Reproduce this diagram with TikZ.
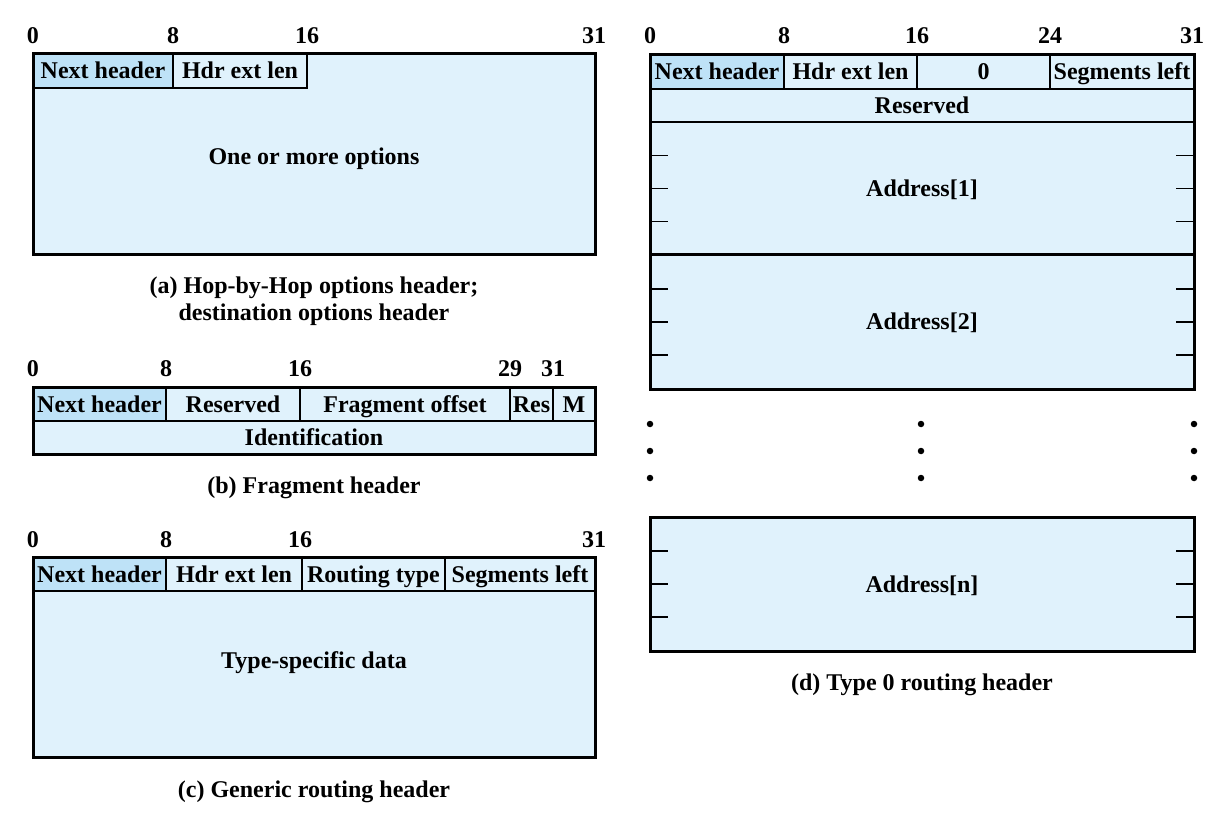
\documentclass[tikz,border=0pt]{standalone}
\usepackage{fontspec}
\setmainfont{Liberation Serif}
\definecolor{cl}{RGB}{224,242,252}
\definecolor{cd}{RGB}{190,226,247}
\newcommand\fldbox[7]{%
  \filldraw[fill=#6, line width=1.3pt] (#2,#3) rectangle (#4,#5);
  \coordinate (#1nw) at (#2,#3);
  \coordinate (#1se) at (#4,#5);
  \coordinate (#1sw) at (#2,#5);
  \node (#1) at ({(#2+#4)/2},{(#3+#5)/2}) {#7};
}
\begin{document}
\begin{tikzpicture}[x=1pt,y=-1pt,
  every node/.style={font=\fontsize{24}{27}\selectfont\bfseries, inner sep=0pt, text height=16pt, text depth=0pt},
  frame/.style={line width=3pt},
  tickline/.style={line width=1.8pt},
  dotnode/.style={circle, fill=black, minimum size=6.5pt, text height=0pt}]
\useasboundingbox (0,0) rectangle (1232,818);

% ---------- (a)
\fldbox{aBox}{33}{54}{595}{255}{cl}{}
\fldbox{aNH}{33}{54}{173}{88}{cd}{Next header}
\fldbox{aHEL}{173}{54}{307}{88}{cl}{Hdr ext len}
\node (aOpt) at (314,157) {One or more options};
\draw[frame] (aBoxnw) rectangle (aBoxse);
\node (a0) at (33,36) {0};
\node (a8) at (173,36) {8};
\node (a16) at (307,36) {16};
\node (a31) at (594,36) {31};
\node (aCap1) at (314,286) {(a) Hop-by-Hop options header;};
\node (aCap2) at (314,313) {destination options header};

% ---------- (b)
\fldbox{bNH}{33}{387}{166}{421}{cd}{Next header}
\fldbox{bRes}{166}{387}{300}{421}{cl}{Reserved}
\fldbox{bFO}{300}{387}{510}{421}{cl}{Fragment offset}
\fldbox{bR}{510}{387}{553}{421}{cl}{Res}
\fldbox{bM}{553}{387}{595}{421}{cl}{M}
\fldbox{bId}{33}{421}{595}{454}{cl}{Identification}
\draw[frame] (bNHnw) rectangle (bIdse);
\node (b0) at (33,369) {0};
\node (b8) at (166,369) {8};
\node (b16) at (300,369) {16};
\node (b29) at (510,369) {29};
\node (b31) at (553,369) {31};
\node (bCap) at (314,485) {(b) Fragment header};

% ---------- (c)
\fldbox{cBox}{33}{557}{595}{757}{cl}{}
\fldbox{cNH}{33}{557}{166}{591}{cd}{Next header}
\fldbox{cHEL}{166}{557}{302}{591}{cl}{Hdr ext len}
\fldbox{cRT}{302}{557}{445}{591}{cl}{Routing type}
\fldbox{cSL}{445}{557}{595}{591}{cl}{Segments left}
\node (cTS) at (314,660) {Type-specific data};
\draw[frame] (cBoxnw) rectangle (cBoxse);
\node (c0) at (33,539) {0};
\node (c8) at (166,539) {8};
\node (c16) at (300,539) {16};
\node (c31) at (594,539) {31};
\node (cCap) at (314,789) {(c) Generic routing header};

% ---------- (d)
\fldbox{dNH}{650}{55}{784}{89}{cd}{Next header}
\fldbox{dHEL}{784}{55}{917}{89}{cl}{Hdr ext len}
\fldbox{dZ}{917}{55}{1050}{89}{cl}{0}
\fldbox{dSL}{1050}{55}{1194}{89}{cl}{Segments left}
\fldbox{dRes}{650}{89}{1194}{122}{cl}{Reserved}
\fldbox{dA1}{650}{122}{1194}{255}{cl}{Address[1]}
\fldbox{dA2}{650}{255}{1194}{389}{cl}{Address[2]}
\draw[frame] (dNHnw) rectangle (dA2se);
\draw[frame] (dA1sw) -- (dA1se);
\foreach \n/\yc in {dA1/188.5,dA2/322}{
  \foreach \o in {-33,0,33}{
    \draw[tickline] (650,\yc+\o) -- ++(18,0);
    \draw[tickline] (1194,\yc+\o) -- ++(-18,0);
  }
}
\node (d0) at (650,36) {0};
\node (d8) at (784,36) {8};
\node (d16) at (917,36) {16};
\node (d24) at (1050,36) {24};
\node (d31) at (1192,36) {31};

\foreach \x/\c in {650/l,921/m,1194/r}{
  \foreach \y/\r in {424/1,451/2,478/3}{
    \node[dotnode] (dot\c\r) at (\x,\y) {};
  }
}

\fldbox{dAn}{650}{517}{1194}{651}{cl}{Address[n]}
\draw[frame] (dAnnw) rectangle (dAnse);
\foreach \o in {-33,0,33}{
  \draw[tickline] (650,584+\o) -- ++(18,0);
  \draw[tickline] (1194,584+\o) -- ++(-18,0);
}
\node (dCap) at (922,682) {(d) Type 0 routing header};
\end{tikzpicture}
\end{document}
